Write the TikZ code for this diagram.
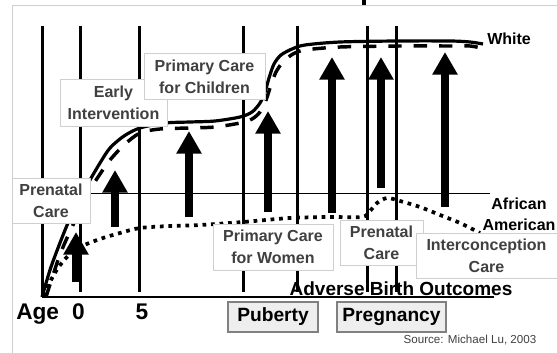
\documentclass[tikz,border=0pt]{standalone}
\usepackage{fontspec}
\setmainfont{Liberation Sans}
\usetikzlibrary{arrows.meta}
\newdimen\pxu \pxu=0.75pt
\newcommand\myfs[2]{\fontsize{#1}{#2}\selectfont}
\definecolor{lbltext}{HTML}{404040}
\definecolor{lblborder}{HTML}{CFCFCF}
\definecolor{tagfill}{HTML}{EEEEEE}
\definecolor{tagborder}{HTML}{808080}
\tikzset{
  vline/.style={line width=2.25pt},
  whiteline/.style={line width=2.4pt},
  dashline/.style={line width=2.6pt, dash pattern=on 10pt off 9pt},
  dotline/.style={line width=2.8pt, dash pattern=on 2.8pt off 3.6pt},
  bigarr/.style={line width=6pt, -{Triangle[width=18pt,length=17pt]}},
  lbl/.style={draw=lblborder, line width=0.75pt, fill=white, text=lbltext,
    font=\bfseries\myfs{12}{16.3}, align=center, inner sep=0pt},
  tag/.style={draw=tagborder, line width=1pt, fill=tagfill, text=black,
    font=\bfseries\myfs{14.4}{17}, inner sep=0pt, minimum height=30\pxu},
  axtext/.style={font=\bfseries\myfs{17}{20}, inner sep=0pt},
  curvelbl/.style={font=\bfseries\myfs{12}{15.8}, inner sep=0pt, align=center}
}
\begin{document}
\begin{tikzpicture}[x=0.75pt,y=-0.75pt]
\useasboundingbox (0,0) rectangle (557,353);
% frame and title fragment
\draw[lblborder, line width=0.75pt] (12,353) -- (12,6) -- (557,6);
\fill (362,0) rectangle (366,5);
% vertical age lines
\draw[vline] (42,26) -- (42,297);
\foreach \xx in {80,139,243,297,367,396} \draw[vline] (\xx,26) -- (\xx,292);
% axes
\draw[line width=0.75pt] (42,193) -- (490,193);
\draw[line width=1.5pt] (42,297) -- (494,297);
% curves
\draw[whiteline] plot[smooth, tension=0.5] coordinates {(42,297) (50,270) (58,248) (68,223) (80,198) (90,180) (100,163) (110,148) (124,136) (140,128) (165,123) (190,122) (215,121) (240,117) (252,112) (260,103) (265,92) (269,78) (274,64) (281,55) (292,49) (305,45) (340,42) (397,41) (450,41) (470,42) (483,44)};
\draw[dashline] plot[smooth, tension=0.5] coordinates {(46,297) (53,275) (61,252) (72,227) (82,207) (90,190) (100,174) (110,160) (124,145) (140,133) (160,129) (190,128) (215,127) (240,123) (252,119) (260,112) (266,100) (271,85) (276,72) (283,62) (293,54) (305,50) (340,47) (400,46) (450,46) (470,46) (486,49)};
\draw[dotline] plot[smooth, tension=0.5] coordinates {(44,296) (50,282) (58,268) (68,256) (80,247) (100,239) (120,233) (140,228) (170,226) (200,225) (243,222) (290,218) (330,217) (362,217) (370,211) (377,203) (387,198) (400,201) (420,207) (440,215) (460,223) (480,233)};
% intervention arrows
\draw[bigarr] (76,282) -- (76,232);
\draw[bigarr] (115,227) -- (115,170);
\draw[bigarr] (189,217) -- (189,131);
\draw[bigarr] (268,212) -- (268,111);
\draw[bigarr] (332,213) -- (332,57);
\draw[bigarr] (381,188) -- (381,57);
\draw[bigarr] (445,207) -- (445,52);
% labels
\node[lbl, minimum width=78\pxu, minimum height=45\pxu] (preA) at (51,200.5) {Prenatal\\Care};
\node[lbl, minimum width=107\pxu, minimum height=46\pxu] (early) at (113.5,103) {Early\\Intervention};
\node[lbl, minimum width=121\pxu, minimum height=46\pxu] (pcc) at (204.5,77) {Primary Care\\for Children};
\node[lbl, minimum width=120\pxu, minimum height=46\pxu] (pcw) at (273,247) {Primary Care\\for Women};
\node[lbl, minimum width=83\pxu, minimum height=45\pxu] (preB) at (381.5,242.5) {Prenatal\\Care};
\node[lbl, minimum width=141\pxu, minimum height=45\pxu] (inter) at (486.5,255.5) {Interconception\\Care};
% curve labels
\node[curvelbl, anchor=base west] (white) at (487,45) {White};
\node[curvelbl, anchor=base] (afr) at (519,209) {African};
\node[curvelbl, anchor=base] (amer) at (519,230) {American};
\node[font=\bfseries\myfs{14.25}{17}, inner sep=0pt, anchor=base] (adverse) at (401,295) {Adverse Birth Outcomes};
% age axis
\node[axtext, anchor=base west] (age) at (16,319) {Age};
\node[axtext, anchor=base] (age0) at (78.5,319) {0};
\node[axtext, anchor=base] (age5) at (142,319) {5};
\node[tag, minimum width=90\pxu] (puberty) at (273,317) {Puberty};
\node[tag, minimum width=109\pxu] (pregnancy) at (391.5,317) {Pregnancy};
\node[font=\myfs{8.7}{10}, text=lbltext, inner sep=0pt, anchor=base] (source) at (470,343) {Source: Michael Lu, 2003};
\end{tikzpicture}
\end{document}
